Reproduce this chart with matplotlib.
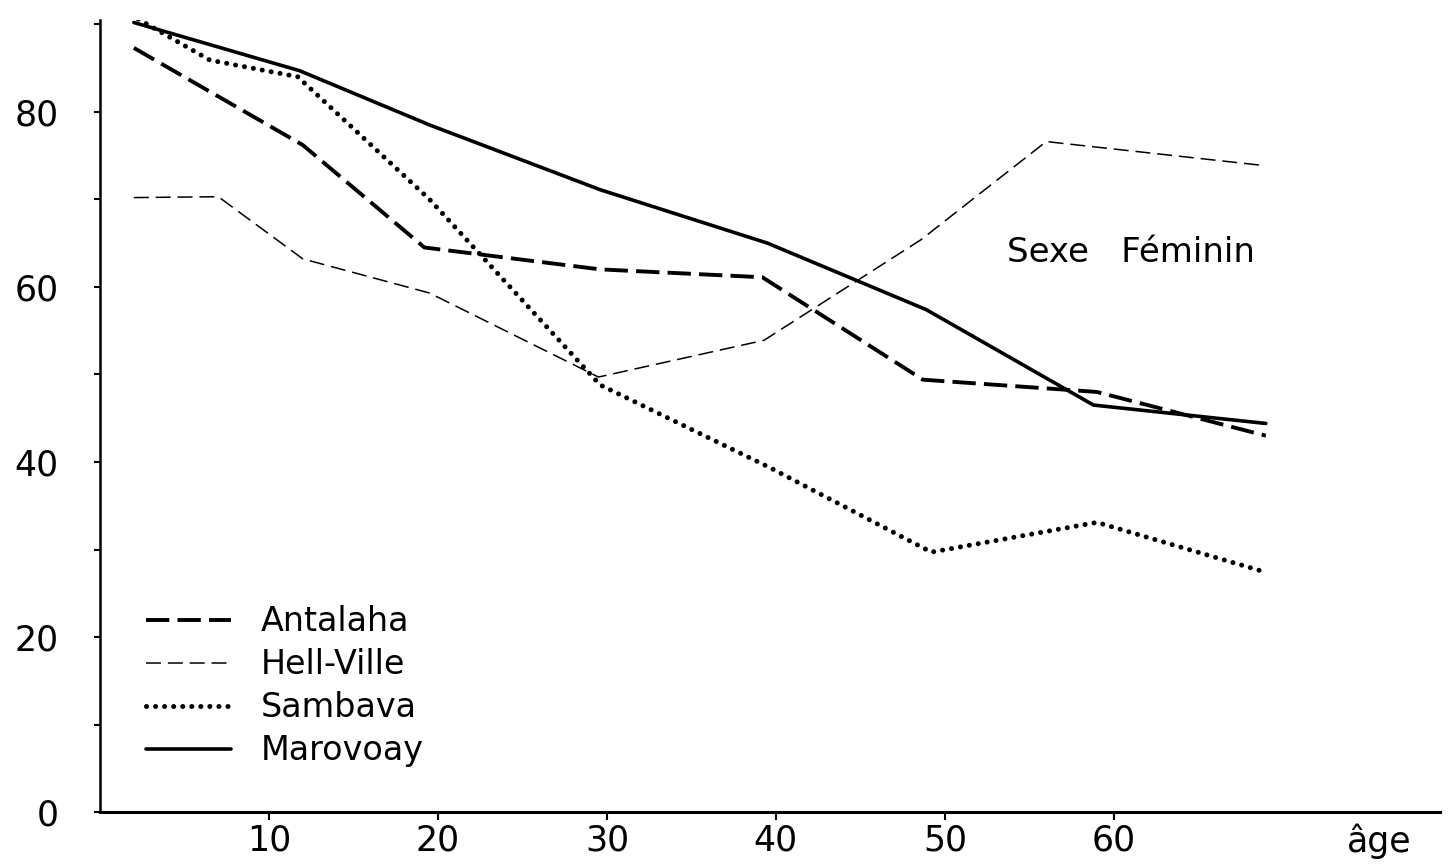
import numpy as np
import matplotlib
matplotlib.use('Agg')
import matplotlib.pyplot as plt

# Data (age, % value)
antalaha_age = [2, 12, 19.2, 29.6, 39.2, 48.7, 59, 69]
antalaha_val = [87.3, 76.2, 64.5, 62.0, 61.1, 49.4, 48.0, 43.0]

hellville_age = [2, 7, 12, 19.5, 29.5, 39.3, 48.6, 56, 68.7]
hellville_val = [70.2, 70.3, 63.2, 59.3, 49.7, 53.9, 65.4, 76.6, 73.9]

sambava_age = [1.8, 6.5, 11.7, 19.5, 29.6, 39.6, 49.2, 59, 69]
sambava_val = [91.1, 85.9, 84.0, 70.0, 48.8, 39.4, 29.7, 33.1, 27.4]

marovoay_age = [2, 11.8, 19.5, 29.6, 39.5, 48.9, 58.8, 69]
marovoay_val = [90.2, 84.7, 78.5, 71.1, 65.0, 57.4, 46.5, 44.4]

x_ticks = [10, 20, 30, 40, 50, 60]
y_labels = [0, 20, 40, 60, 80]

fig = plt.figure(figsize=(14.5, 8.64), dpi=100)
ax = fig.add_axes([0.069, 0.060, 0.924, 0.917])

ax.plot(antalaha_age, antalaha_val, color='black', linewidth=2.8,
        linestyle=(0, (6, 2.1)), label='Antalaha')
ax.plot(hellville_age, hellville_val, color='black', linewidth=1.1,
        linestyle=(0, (9.8, 4.5)), label='Hell-Ville')
ax.plot(sambava_age, sambava_val, color='black', linewidth=3.6,
        linestyle=(0, (0.01, 1.8)), dash_capstyle='round', label='Sambava')
ax.plot(marovoay_age, marovoay_val, color='black', linewidth=2.6,
        solid_capstyle='round', label='Marovoay')

ax.set_xlim(0, 79.3)
ax.set_ylim(0, 90.5)

# axes: only left and bottom
ax.spines['top'].set_visible(False)
ax.spines['right'].set_visible(False)
ax.spines['left'].set_linewidth(1.8)
ax.spines['bottom'].set_linewidth(2.2)

ax.set_xticks(x_ticks)
ax.set_xticklabels([str(t) for t in x_ticks])
ax.set_yticks(np.arange(0, 91, 10))
ax.set_yticklabels([str(v) if v in y_labels else '' for v in range(0, 91, 10)])
ax.tick_params(axis='x', length=6, width=1.5, pad=2, labelsize=25)
ax.tick_params(axis='y', length=4, width=1.5, pad=26, labelsize=25)

ax.annotate('âge', xy=(75.7, 0), xytext=(0, -8), textcoords='offset points',
            ha='center', va='top', fontsize=25, annotation_clip=False)
ax.text(61.0, 63.9, 'Sexe   Féminin', ha='center', va='center', fontsize=24.5)

ax.legend(loc='upper left', bbox_to_anchor=(0.034, 0.261), frameon=False,
          fontsize=24, handlelength=2.55, handletextpad=0.9,
          labelspacing=0.3, borderpad=0, borderaxespad=0)

plt.savefig('out.png', dpi=100)
